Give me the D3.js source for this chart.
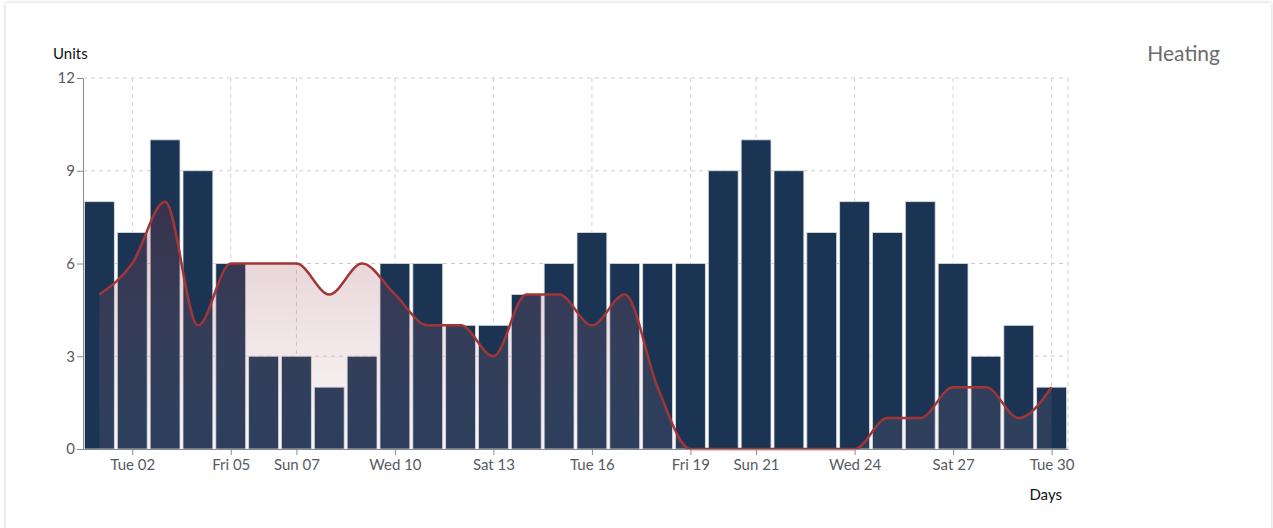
<!DOCTYPE html>
<html>
<head>
<meta charset="utf-8">
<script src="https://cdn.jsdelivr.net/npm/d3@7"></script>
<style>
  body { margin: 0; background: #fff; font-family: Lato, sans-serif; }
  .card {
    position: absolute; left: 6px; top: 3px; width: 1265px; height: 560px;
    background: #fff; box-shadow: 0 0 4px rgba(0, 0, 0, 0.22);
  }
  svg { position: absolute; left: 0; top: 0; }
  .axis text { font-family: Lato, sans-serif; font-size: 15px; fill: #575b63; }
  .axis path, .axis line { stroke: #8a8a8a; }
</style>
</head>
<body>
<div class="card"></div>
<svg id="chart" width="1273" height="528"></svg>
<script>
// June 2020, one value per day
const days = d3.range(1, 31);
const usage = [8, 7, 10, 9, 6, 3, 3, 2, 3, 6, 6, 4, 4, 5, 6, 7, 6, 6, 6, 9, 10, 9, 7, 8, 7, 8, 6, 3, 4, 2];
const heating = [5, 6, 8, 4, 6, 6, 6, 5, 6, 5, 4, 4, 3, 5, 5, 4, 5, 2, 0, 0, 0, 0, 0, 0, 1, 1, 2, 2, 1, 2];
const tickDays = [2, 5, 7, 10, 13, 16, 19, 21, 24, 27, 30];
const yTicks = [0, 3, 6, 9, 12];

const day = d => new Date(2020, 5, d);

const margin = { top: 78, right: 205, bottom: 79, left: 83 };
const width = 1273 - margin.left - margin.right;
const height = 528 - margin.top - margin.bottom;

const svg = d3.select('#chart');

const x = d3.scaleTime()
  .domain([new Date(2020, 5, 0, 12), new Date(2020, 5, 30, 12)])
  .range([margin.left, margin.left + width]);
const y = d3.scaleLinear().domain([0, 12]).range([margin.top + height, margin.top]);

const step = x(day(2)) - x(day(1));
const barW = step - 3;

// gradient for the area under the line
const defs = svg.append('defs');
const grad = defs.append('linearGradient')
  .attr('id', 'heatGrad')
  .attr('x1', 0).attr('y1', 0).attr('x2', 0).attr('y2', 1);
grad.append('stop').attr('offset', '0%').attr('stop-color', 'rgb(140,40,55)').attr('stop-opacity', 0.26);
grad.append('stop').attr('offset', '100%').attr('stop-color', 'rgb(200,160,170)').attr('stop-opacity', 0.1);

// grid
const grid = svg.append('g').attr('class', 'grid')
  .attr('stroke', '#cfcfcf').attr('stroke-dasharray', '4,4').attr('stroke-width', 1);
grid.selectAll('line.h')
  .data(yTicks.filter(v => v > 0))
  .join('line')
  .attr('x1', margin.left).attr('x2', margin.left + width)
  .attr('y1', d => y(d)).attr('y2', d => y(d));
grid.selectAll('line.v')
  .data(tickDays.map(day).concat([x.domain()[1]]))
  .join('line')
  .attr('x1', d => x(d)).attr('x2', d => x(d))
  .attr('y1', margin.top).attr('y2', margin.top + height);

// bars
svg.append('g')
  .selectAll('rect')
  .data(days)
  .join('rect')
  .attr('x', (d, i) => x(day(d)) - barW / 2)
  .attr('y', (d, i) => y(usage[i]))
  .attr('width', barW)
  .attr('height', (d, i) => y(0) - y(usage[i]))
  .attr('fill', '#1b3453')
  .attr('stroke', '#d9dee4')
  .attr('stroke-width', 0.8);

// area + line
const area = d3.area()
  .x((d, i) => x(day(d)))
  .y0(y(0))
  .y1((d, i) => y(heating[i]))
  .curve(d3.curveMonotoneX);
const line = d3.line()
  .x((d, i) => x(day(d)))
  .y((d, i) => y(heating[i]))
  .curve(d3.curveMonotoneX);

svg.append('path')
  .datum(days)
  .attr('d', area)
  .attr('fill', 'url(#heatGrad)');
svg.append('path')
  .datum(days)
  .attr('d', line)
  .attr('fill', 'none')
  .attr('stroke', '#a23636')
  .attr('stroke-width', 2.5);

// axes
svg.append('g')
  .attr('class', 'axis')
  .attr('transform', `translate(${margin.left},0)`)
  .call(d3.axisLeft(y).tickValues(yTicks).tickSize(6).tickSizeOuter(0))
  .call(g => g.selectAll('text').attr('x', -8));

svg.append('g')
  .attr('class', 'axis')
  .attr('transform', `translate(0,${margin.top + height})`)
  .call(d3.axisBottom(x).tickValues(tickDays.map(day)).tickFormat(d3.timeFormat('%a %d')).tickSize(6).tickSizeOuter(0))
  .call(g => g.selectAll('text').attr('y', 10));

// labels
svg.append('text')
  .attr('x', 53).attr('y', 59)
  .attr('font-size', 15).attr('fill', '#111')
  .text('Units');
svg.append('text')
  .attr('x', 1062).attr('y', 500)
  .attr('text-anchor', 'end')
  .attr('font-size', 15).attr('fill', '#111')
  .text('Days');
svg.append('text')
  .attr('x', 1220).attr('y', 61)
  .attr('text-anchor', 'end')
  .attr('font-size', 21).attr('fill', '#6b6b6b')
  .text('Heating');
</script>
</body>
</html>
